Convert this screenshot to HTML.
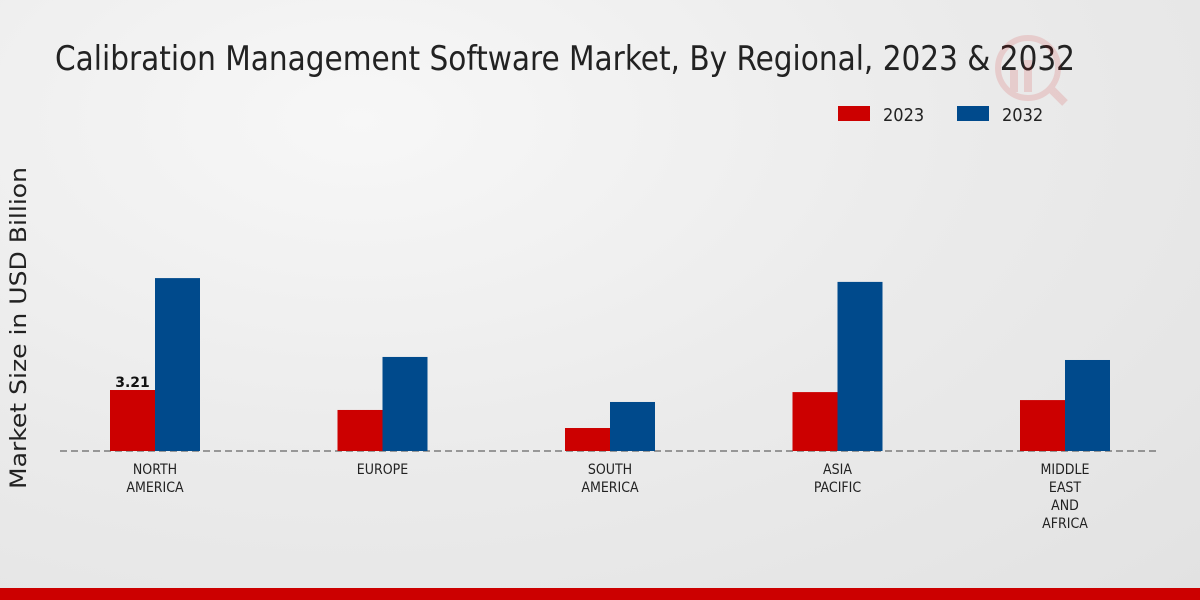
<!DOCTYPE html>
<html><head><meta charset="utf-8"><style>
body{margin:0;width:1200px;height:600px;overflow:hidden;font-family:"Liberation Sans",sans-serif}
#bg{position:absolute;left:0;top:0;width:1200px;height:600px;background:radial-gradient(ellipse at 30% 20%,#f7f7f7 0%,#ebebeb 50%,#e2e2e2 100%)}
</style></head><body>
<div id="bg"></div>
<svg id="c" width="1200" height="600" style="position:absolute;left:0;top:0">
<text x="55" y="70" font-size="34" fill="#222" font-family="DejaVu Sans Condensed, Liberation Sans, sans-serif" textLength="1020" lengthAdjust="spacingAndGlyphs">Calibration Management Software Market, By Regional, 2023 &amp; 2032</text>
<g opacity="0.12"><circle cx="1028" cy="68" r="30" fill="none" stroke="#c00" stroke-width="6"/><rect x="1010" y="70" width="8" height="22" fill="#c00"/><rect x="1024" y="60" width="8" height="32" fill="#c00"/><line x1="1050" y1="88" x2="1065" y2="103" stroke="#c00" stroke-width="8"/></g>
<rect x="838" y="106" width="32" height="15" fill="#cc0000"/>
<text x="883" y="121" font-size="18" fill="#222" font-family="DejaVu Sans Condensed, Liberation Sans, sans-serif">2023</text>
<rect x="957" y="106" width="32" height="15" fill="#004a8c"/>
<text x="1002" y="121" font-size="18" fill="#222" font-family="DejaVu Sans Condensed, Liberation Sans, sans-serif">2032</text>
<text transform="translate(26,328) rotate(-90)" text-anchor="middle" font-size="22" fill="#222" font-family="DejaVu Sans, sans-serif" textLength="322" lengthAdjust="spacingAndGlyphs">Market Size in USD Billion</text>
<line x1="60" y1="451" x2="1160" y2="451" stroke="#444" stroke-dasharray="7,4" stroke-width="1"/>
<g id="bars"></g>
<rect x="0" y="588" width="1200" height="12" fill="#cc0000"/>
</svg>
<script>
const categories=[["NORTH","AMERICA"],["EUROPE"],["SOUTH","AMERICA"],["ASIA","PACIFIC"],["MIDDLE","EAST","AND","AFRICA"]];
const v2023=[3.21,2.16,1.21,3.1,2.68];
const v2032=[9.1,4.95,2.58,8.9,4.79];
const NS="http://www.w3.org/2000/svg";
const base=451,ppu=19.0;
const y=v=>base-v*ppu;
const xc=i=>155+i*227.5;
const g=document.getElementById('bars');
function mk(t,a){const e=document.createElementNS(NS,t);for(const k in a)e.setAttribute(k,a[k]);g.appendChild(e);return e;}
categories.forEach((c,i)=>{
 const r1=mk('rect',{x:xc(i)-45,y:y(v2023[i]),width:45,height:base-y(v2023[i]),fill:'#cc0000'});
 
 
 const r2=mk('rect',{x:xc(i),y:y(v2032[i]),width:45,height:base-y(v2032[i]),fill:'#004a8c'});
 
 
 c.forEach((l,j)=>{
  const t=mk('text',{x:xc(i),y:474+j*18,'text-anchor':'middle','font-size':14,fill:'#222','font-family':'DejaVu Sans Condensed, Liberation Sans, sans-serif'});
  t.textContent=l;
  
  
 });
});
const lbl=mk('text',{x:xc(0)-22.5,y:y(v2023[0])-3,'text-anchor':'middle','font-size':14,'font-weight':'bold',fill:'#111','font-family':'DejaVu Sans, sans-serif'});
lbl.textContent=v2023[0].toFixed(2);


</script>
</body></html>
